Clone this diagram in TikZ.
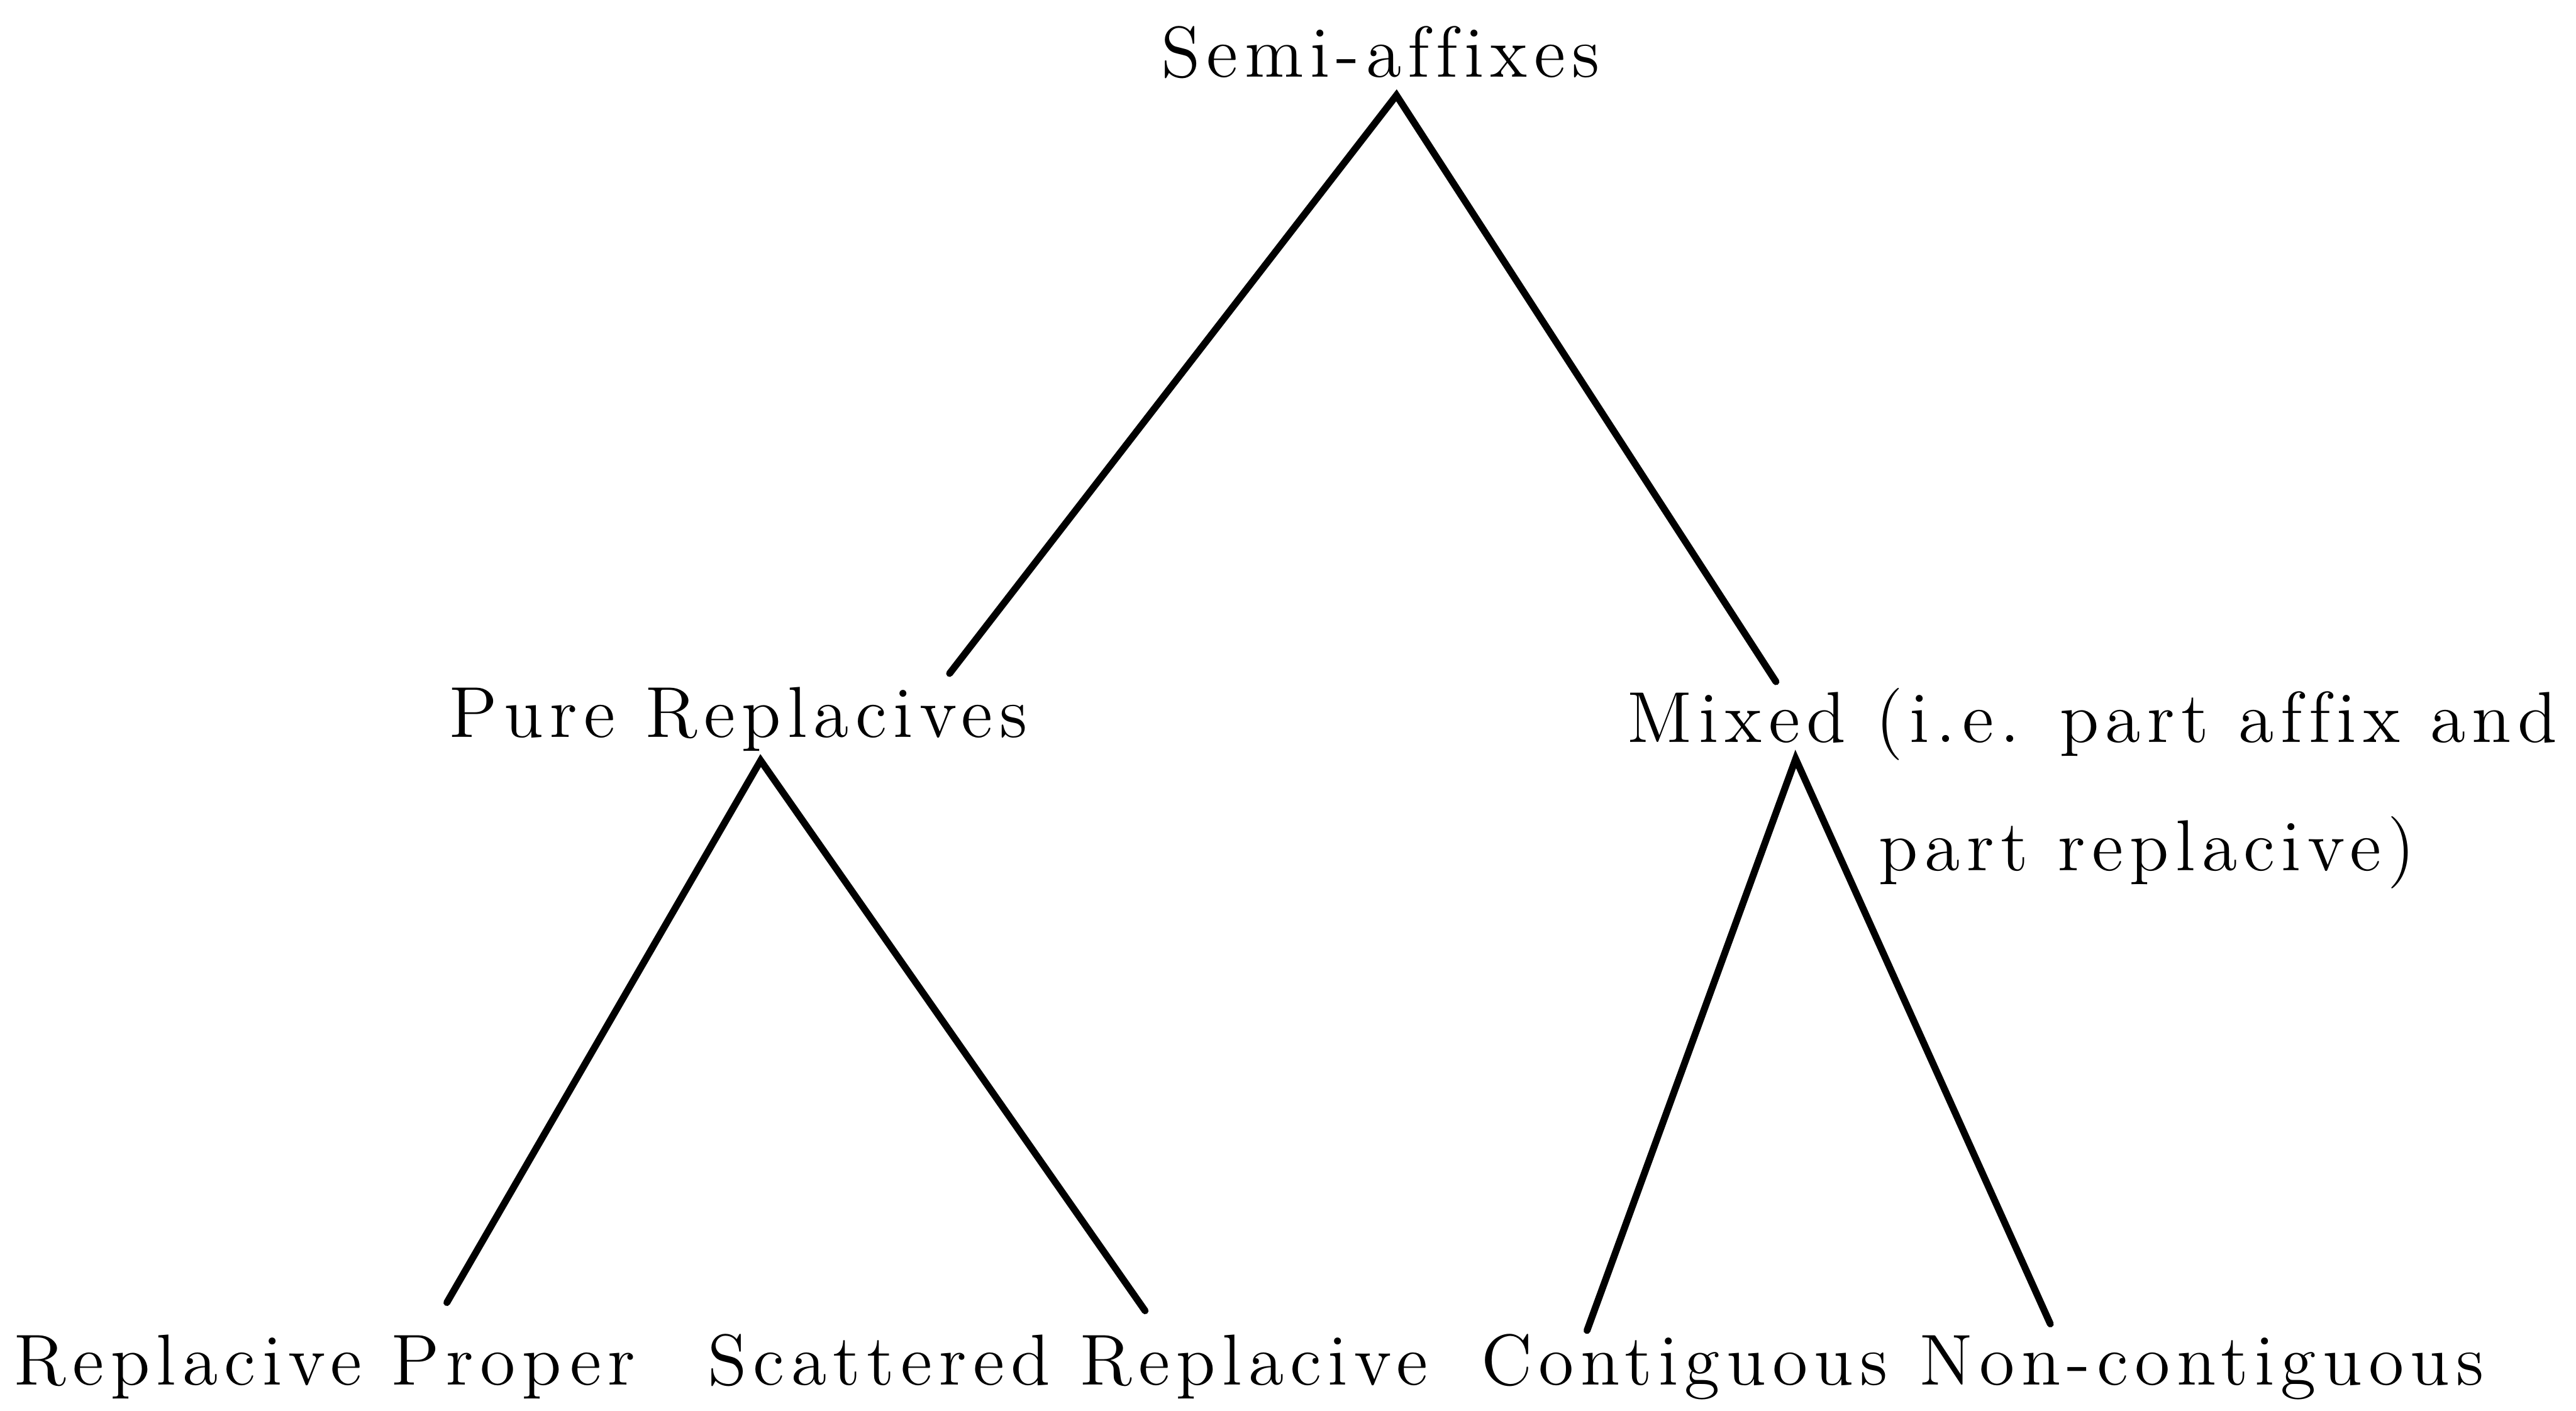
\documentclass[tikz,border=0pt]{standalone}
\usepackage{fontspec}
\setmainfont{Latin Modern Roman}[LetterSpace=9, Ligatures=NoCommon]
\usepackage{tikz}
\tikzstyle{term} = [inner sep = 0pt, anchor = base west, font = \fontsize{12.5}{15}\selectfont]
\tikzstyle{branch} = [line width = 1.2pt, line cap = round]

\begin{document}
\begin{tikzpicture}
	\useasboundingbox (0,0) rectangle (15.68,-8.59);

	\node (semi)[term] at (7.06,-0.47){Semi-affixes};
	\node (pure)[term] at (2.73,-4.49){Pure Replacives};
	\node (mixed)[term] at (9.90,-4.52){Mixed (i.e. part affix and};
	\node (mixed2)[term] at (11.43,-5.30){part replacive)};
	\node (proper)[term] at (0.08,-8.43){Replacive Proper};
	\node (scattered)[term] at (4.30,-8.43){Scattered Replacive};
	\node (contig)[term] at (9.01,-8.43){Contiguous};
	\node (noncontig)[term] at (11.68,-8.43){Non-contiguous};

	% ends of the branches
	\coordinate (semi-fork) at (8.50,-0.58);
	\coordinate (pure-top) at (5.78,-4.10);
	\coordinate (mixed-top) at (10.81,-4.15);
	\coordinate (pure-fork) at (4.63,-4.63);
	\coordinate (proper-top) at (2.72,-7.93);
	\coordinate (scattered-top) at (6.97,-7.98);
	\coordinate (mixed-fork) at (10.93,-4.62);
	\coordinate (contig-top) at (9.66,-8.10);
	\coordinate (noncontig-top) at (12.48,-8.06);

	\draw [branch] (pure-top) -- (semi-fork) -- (mixed-top);
	\draw [branch] (proper-top) -- (pure-fork) -- (scattered-top);
	\draw [branch] (contig-top) -- (mixed-fork) -- (noncontig-top);
\end{tikzpicture}
\end{document}
